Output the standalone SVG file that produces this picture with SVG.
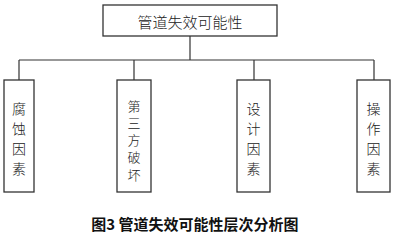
<svg xmlns="http://www.w3.org/2000/svg" width="400" height="235" viewBox="0 0 400 235">
<style>
.box{fill:#fff;stroke:#333;stroke-width:1.3}
.ln{fill:none;stroke:#333;stroke-width:1.2}
.t{font-family:"Noto Sans CJK SC",sans-serif;font-weight:300;fill:#222;text-anchor:middle;dominant-baseline:central}
.cap{font-family:"Noto Sans CJK SC",sans-serif;font-weight:bold;font-size:15px;fill:#111;text-anchor:middle;dominant-baseline:central}
</style>
<rect width="400" height="235" fill="#fff"/>
<g id="connectors">
<path class="ln" d="M190 36V60M19 60H374M19 60V80M134 60V80M254 60V80M374 60V80"/>
</g>
<g id="root">
<rect class="box" x="103" y="5" width="174" height="31"/>
<text class="t" x="190" y="21" font-size="15">管道失效可能性</text>
</g>
<g id="n1">
<rect class="box" x="4" y="80" width="30" height="112"/>
<text class="t" font-size="14"><tspan x="19" y="108">腐</tspan><tspan x="19" y="128">蚀</tspan><tspan x="19" y="148">因</tspan><tspan x="19" y="168">素</tspan></text>
</g>
<g id="n2">
<rect class="box" x="117" y="80" width="34" height="112"/>
<text class="t" font-size="13"><tspan x="134" y="104.5">第</tspan><tspan x="134" y="121.8">三</tspan><tspan x="134" y="139">方</tspan><tspan x="134" y="156.3">破</tspan><tspan x="134" y="173.5">坏</tspan></text>
</g>
<g id="n3">
<rect class="box" x="237" y="80" width="33" height="112"/>
<text class="t" font-size="14"><tspan x="253.5" y="108">设</tspan><tspan x="253.5" y="128">计</tspan><tspan x="253.5" y="148">因</tspan><tspan x="253.5" y="168">素</tspan></text>
</g>
<g id="n4">
<rect class="box" x="357" y="80" width="33" height="112"/>
<text class="t" font-size="14"><tspan x="373.5" y="108">操</tspan><tspan x="373.5" y="128">作</tspan><tspan x="373.5" y="148">因</tspan><tspan x="373.5" y="168">素</tspan></text>
</g>
<text class="cap" x="195" y="223">图3 管道失效可能性层次分析图</text>
</svg>
